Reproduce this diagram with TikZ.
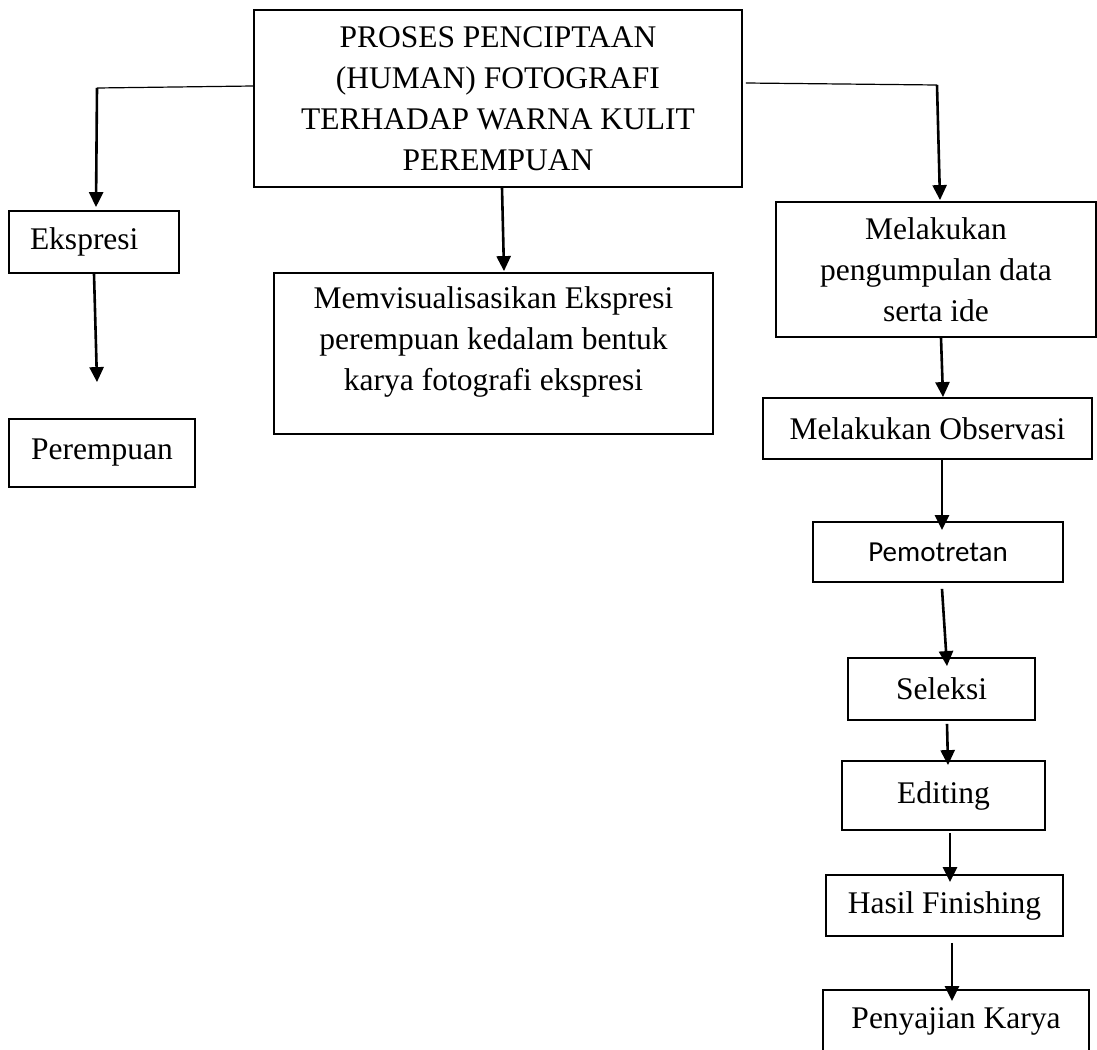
\documentclass[tikz,border=0pt]{standalone}
\usepackage{fontspec}
\setmainfont{Liberation Serif}
\newfontfamily\calibri{Carlito}
\usetikzlibrary{arrows.meta,calc}

\begin{document}
\begin{tikzpicture}[x=1pt, y=-1pt,
		box/.style={draw, line width=1.8pt, inner sep=0pt, align=center, font=\fontsize{31.5}{41}\selectfont},
		arr/.style={-{Triangle[length=15pt, width=14pt]}, line width=2.6pt},
		link/.style={line width=1.2pt}]
		\path[use as bounding box, fill=white] (0, 0) rectangle (1097, 1049);

		\node[box, minimum width=488pt, minimum height=177pt] (0) at (498, 98.5) {PROSES PENCIPTAAN\\ (HUMAN) FOTOGRAFI\\ TERHADAP WARNA KULIT\\ PEREMPUAN};

		\node[box, align=left, text width=128pt, inner xsep=21pt, minimum height=62pt] (1) at (94, 242) {Ekspresi};
		\node[box, minimum width=186pt, minimum height=68pt] (2) at (102, 453) {Perempuan};

		\node[box, minimum width=439pt, minimum height=161pt] (3) at (493.5, 353.5) {Memvisualisasikan Ekspresi\\ perempuan kedalam bentuk\\ karya fotografi ekspresi\\[-11pt]\mbox{}};

		\node[box, minimum width=320pt, minimum height=135pt] (4) at (936, 269.5) {Melakukan\\ pengumpulan data\\ serta ide};
		\node[box, minimum width=329pt, minimum height=61pt] (5) at (927.5, 428.5) {Melakukan Observasi};
		\node[box, minimum width=250pt, minimum height=60pt, font=\calibri\fontsize{29}{35}\selectfont] (6) at (938, 552) {Pemotretan};
		\node[box, minimum width=187pt, minimum height=62pt] (7) at (941.5, 689) {Seleksi};
		\node[box, minimum width=203pt, minimum height=69pt] (8) at (943.5, 795.5) {Editing};
		\node[box, minimum width=237pt, minimum height=61pt] (9) at (944.5, 905.5) {Hasil Finishing};
		\node[box, minimum width=266pt, minimum height=62pt] (10) at (956, 1021) {Penyajian Karya};

		\coordinate (11) at (97, 88);
		\coordinate (12) at (937, 85);

		\draw[link] ($(0.west)+(0, -12.5)$) -- (11);
		\draw[arr] (11) -- ($(1.north)+(2, -3)$);
		\draw[arr] (1.south) -- ($(2.north)+(-5, -36)$);

		\draw[arr] ($(0.south)+(4, 0)$) -- ($(3.north)+(10.5, -1)$);

		\draw[link] ($(0.east)+(3, -15.5)$) -- (12);
		\draw[arr] (12) -- ($(4.north)+(4, -1)$);
		\draw[arr] ($(4.south)+(5, 0)$) -- ($(5.north)+(15.5, 0)$);
		\draw[arr] ($(5.south)+(14.5, 0)$) -- ($(6.north)+(4, 9)$);
		\draw[arr] ($(6.south)+(4, 6)$) -- ($(7.north)+(5.5, 9)$);
		\draw[arr] ($(7.south)+(5.5, 3)$) -- ($(8.north)+(4.5, 5)$);
		\draw[arr] ($(8.south)+(6.5, 2)$) -- ($(9.north)+(5.5, 8)$);
		\draw[arr] ($(9.south)+(7.5, 6)$) -- ($(10.north)+(-4, 12)$);
	\end{tikzpicture}
\end{document}
